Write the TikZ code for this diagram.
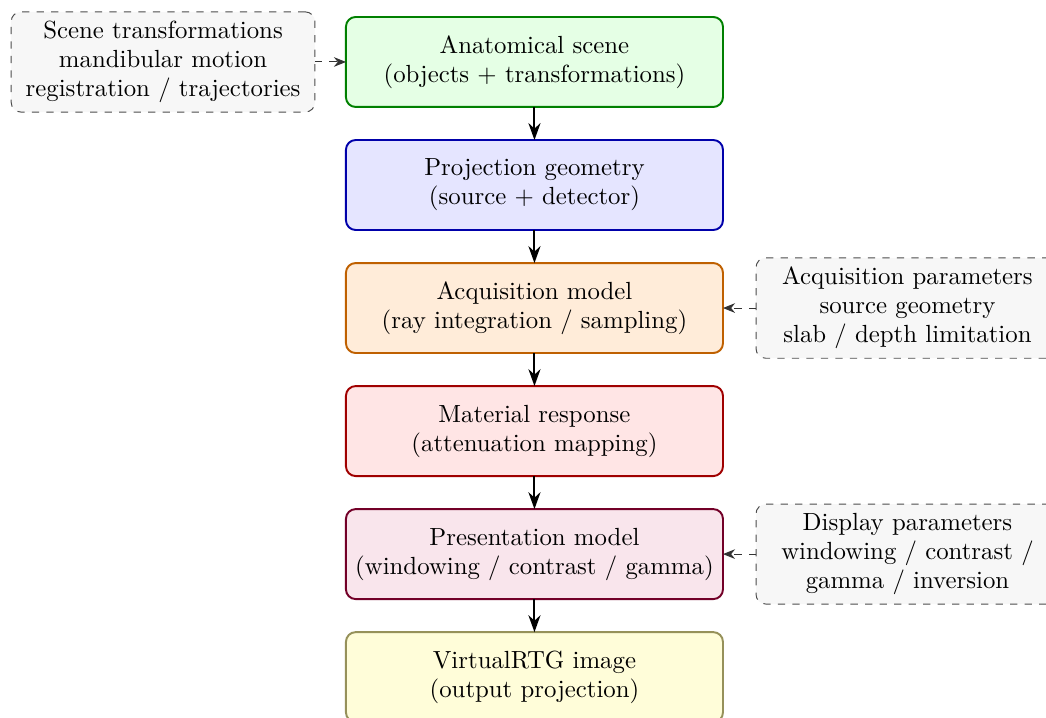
\documentclass[tikz,border=0pt]{standalone}
\usepackage{amssymb,amsmath}
\usepackage{tikz}
\usetikzlibrary{arrows.meta}
\usetikzlibrary{positioning}
\definecolor{scenegreen}{RGB}{0,128,0}
\definecolor{geomblue}{RGB}{0,0,170}
\definecolor{acqorange}{RGB}{191,96,0}
\definecolor{matred}{RGB}{160,0,0}
\definecolor{presmaroon}{RGB}{115,0,40}
\definecolor{outkhaki}{RGB}{150,145,90}
\tikzset{
    stage/.style={draw, rounded corners=4pt, line width=0.8pt, align=center,
        minimum width=5.476cm, minimum height=1.307cm, inner xsep=3pt, inner ysep=6pt, outer sep=0pt},
    param/.style={draw=black!70, dashed, fill=black!3, rounded corners=4pt,
        align=center, minimum width=4.4cm, inner xsep=6pt, inner ysep=3.8pt, outer sep=0pt},
    flow/.style={draw=black, line width=0.8pt, -{Stealth[length=7pt,width=5pt]}},
    paramflow/.style={draw=black!80, dashed, -{Stealth[length=5pt,width=4pt]}}
}
\begin{document}
\begin{tikzpicture}[font=\fontsize{10.25}{12}\selectfont]
	\useasboundingbox (0,0) rectangle (15.193,-10.428);
	\clip (0,0) rectangle (15.193,-10.428);
	% main chain
	\node[stage, draw=scenegreen, fill=green!10] (scene) at (7.763,-0.900)
		{Anatomical scene\\(objects + transformations)};
	\node[stage, draw=geomblue, fill=blue!10, below=0.48cm of scene] (geom)
		{Projection geometry\\(source + detector)};
	\node[stage, draw=acqorange, fill=orange!15, below=0.48cm of geom] (acq)
		{Acquisition model\\(ray integration / sampling)};
	\node[stage, draw=matred, fill=red!10, below=0.48cm of acq] (mat)
		{Material response\\(attenuation mapping)};
	\node[stage, draw=presmaroon, fill=purple!10, below=0.48cm of mat] (pres)
		{Presentation model\\(windowing / contrast / gamma)};
	\node[stage, draw=outkhaki, fill=yellow!15, below=0.48cm of pres] (out)
		{VirtualRTG image\\(output projection)};
	% side inputs
	\node[param, left=0.45cm of scene] (sceneparam)
		{Scene transformations\\mandibular motion\\registration / trajectories};
	\node[param, right=0.48cm of acq] (acqparam)
		{Acquisition parameters\\source geometry\\slab / depth limitation};
	\node[param, right=0.48cm of pres] (dispparam)
		{Display parameters\\windowing / contrast /\\gamma / inversion};
	% arrows
	\draw[flow] (scene) -- (geom);
	\draw[flow] (geom) -- (acq);
	\draw[flow] (acq) -- (mat);
	\draw[flow] (mat) -- (pres);
	\draw[flow] (pres) -- (out);
	\draw[paramflow] (sceneparam) -- (scene);
	\draw[paramflow] (acqparam) -- (acq);
	\draw[paramflow] (dispparam) -- (pres);
\end{tikzpicture}
\end{document}
